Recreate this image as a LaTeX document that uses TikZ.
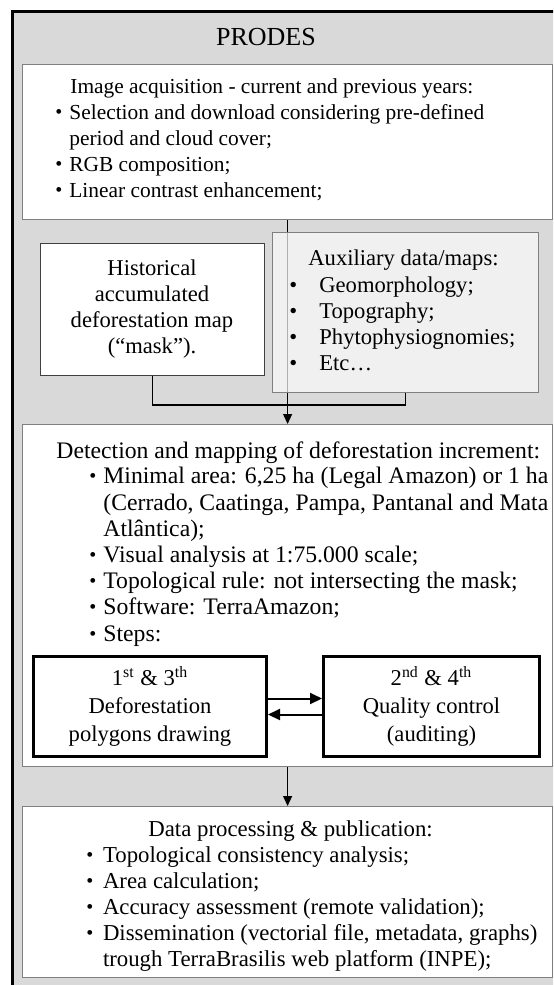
\documentclass[tikz,border=0pt]{standalone}
\usepackage{fontspec}
\setmainfont{Liberation Serif}
\usetikzlibrary{arrows.meta,positioning}
\definecolor{framegray}{HTML}{D9D9D9}
\definecolor{auxfill}{HTML}{FAFAFA}
\definecolor{edgegray}{HTML}{7F7F7F}
\pgfdeclarelayer{back}
\pgfdeclarelayer{mid}
\pgfsetlayers{back,mid,main}
% bullet and hanging indent, width given
\newcommand{\bul}[1]{\makebox[#1][l]{\raisebox{0.5pt}{\fontsize{10}{10}\selectfont\textbullet}}}
\newcommand{\auxbul}{\makebox[15pt][l]{\textbullet}}
\newcommand{\cont}[1]{\hspace*{#1}}

\begin{document}
\begin{tikzpicture}[x=0.5pt,y=-0.5pt,>={Triangle[length=5pt,width=4.5pt]},
  font=\fontsize{10.7}{13}\selectfont,
  box/.style={draw=edgegray,line width=0.6pt,fill=white,anchor=north west,inner sep=0pt},
  stepbox/.style={draw,line width=1.5pt,fill=white,anchor=north west,inner sep=0pt,
    align=center,font=\fontsize{11.3}{14}\selectfont},
  txt/.style={inner sep=0pt,anchor=north west,align=left},
  bigtxt/.style={txt,font=\fontsize{11.3}{13}\selectfont},
  dettxt/.style={txt,font=\fontsize{11.85}{13.1}\selectfont},
  proctxt/.style={txt,font=\fontsize{11.4}{13}\selectfont},
  link/.style={line width=0.6pt},
  steplink/.style={line width=1pt,-{Triangle[length=6pt,width=5.5pt]}}]
\useasboundingbox (0,0) rectangle (553,985);
% outer frame, cut by the page
\begin{pgfonlayer}{back}
\clip (0,0) rectangle (553,985);
\draw[line width=1.5pt,fill=framegray] (12.5,11.5) rectangle (620,1060);
\end{pgfonlayer}
\node (prodes) at (266,37) {\fontsize{13}{15}\selectfont PRODES};
% image acquisition
\node[box,minimum width=265pt,minimum height=77.5pt] (acq) at (22,64) {};
\node[txt] (acqhead) at (70,78) {Image acquisition - current and previous years:};
\node[txt] (acqlist) at (55,104) {\bul{7pt}Selection and download considering pre-defined\\
  \cont{7pt}period and cloud cover;\\ \bul{7pt}RGB composition;\\ \bul{7pt}Linear contrast enhancement;};
% mask and auxiliary data
\node[box,draw=black!75,minimum width=112pt,minimum height=66pt] (mask) at (40,243) {};
\node[bigtxt,anchor=north,align=center] (masktext) at (152,259)
  {Historical\\accumulated\\deforestation map\\(“mask”).};
\node[box,fill=auxfill,fill opacity=0.7,minimum width=133pt,minimum height=80pt] (aux) at (272,232) {};
\node[bigtxt] (auxhead) at (308,249) {Auxiliary data/maps:};
\node[bigtxt] (auxlist) at (289,276) {\auxbul Geomorphology;\\ \auxbul Topography;\\
  \auxbul Phytophysiognomies;\\ \auxbul Etc…};
% detection and mapping
\node[box,minimum width=265pt,minimum height=171pt] (detect) at (22,424) {};
\node[dettxt] (dethead) at (56,441) {Detection and mapping of deforestation increment:};
\node[dettxt] (detlist) at (89,467) {\bul{7pt}Minimal area: 6,25 ha (Legal Amazon) or 1 ha\\
  \cont{7pt}(Cerrado, Caatinga, Pampa, Pantanal and Mata\\ \cont{7pt}Atlântica);\\
  \bul{7pt}Visual analysis at 1:75.000 scale;\\ \bul{7pt}Topological rule: not intersecting the mask;\\
  \bul{7pt}Software: TerraAmazon;\\ \bul{7pt}Steps:};
\node[stepbox,minimum width=116.5pt,minimum height=50pt] (polys) at (32,655)
  {1\textsuperscript{st} \& 3\textsuperscript{th}\\Deforestation\\polygons drawing};
\node[stepbox,minimum width=108pt,minimum height=50pt] (audit) at (322,655)
  {2\textsuperscript{nd} \& 4\textsuperscript{th}\\Quality control\\(auditing)};
% processing and publication
\node[box,minimum width=265pt,minimum height=85.5pt] (proc) at (22,806) {};
\node[proctxt] (prochead) at (148,820) {Data processing \& publication:};
\node[proctxt] (proclist) at (86,846) {\bul{8.3pt}Topological consistency analysis;\\
  \bul{8.3pt}Area calculation;\\ \bul{8.3pt}Accuracy assessment (remote validation);\\
  \bul{8.3pt}Dissemination (vectorial file, metadata, graphs)\\
  \cont{8.3pt}trough TerraBrasilis web platform (INPE);};
% connectors
\coordinate (join) at (287,405);
\begin{pgfonlayer}{mid}
\draw[link,->] (acq.south) -- (detect.north);
\draw[link] (mask.south) |- (join) -| (aux.south);
\end{pgfonlayer}
\draw[steplink] ([yshift=4pt]polys.east) -- ([yshift=4pt]audit.west);
\draw[steplink] ([yshift=-4pt]audit.west) -- ([yshift=-4pt]polys.east);
\draw[link,->] (detect.south) -- (proc.north);
\end{tikzpicture}
\end{document}
